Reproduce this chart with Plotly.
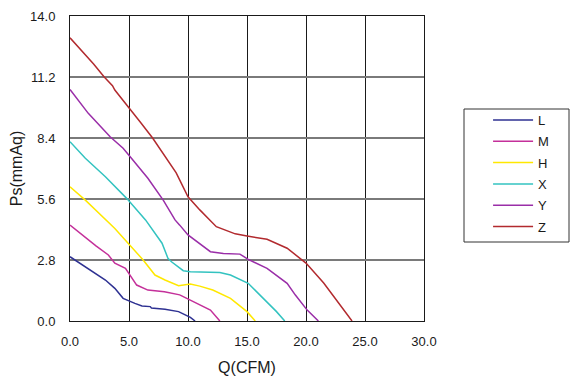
import plotly.graph_objects as go

# Data (Q in CFM, Ps in mmAq)
L_q = [0, 1.3, 3.0, 3.8, 4.5, 5.5, 6.1, 6.8, 6.9, 8.05, 9.2, 10.2, 10.6]
L_p = [2.95, 2.49, 1.88, 1.5, 1.04, 0.81, 0.69, 0.66, 0.6, 0.54, 0.43, 0.17, 0.0]

M_q = [0, 1.0, 2.2, 3.25, 3.8, 4.7, 5.65, 6.6, 8.0, 9.3, 10.2, 11.9, 12.7]
M_p = [4.4, 3.95, 3.45, 3.03, 2.65, 2.42, 1.65, 1.42, 1.34, 1.2, 0.96, 0.5, 0.0]

H_q = [0, 1.3, 3.8, 4.9, 6.2, 7.2, 8.05, 9.2, 10.2, 11.0, 12.1, 13.6, 15.0, 15.7]
H_p = [6.16, 5.55, 4.25, 3.57, 2.8, 2.11, 1.88, 1.62, 1.7, 1.6, 1.42, 1.04, 0.43, 0.0]

X_q = [0, 1.3, 3.0, 4.8, 6.4, 7.8, 8.3, 8.6, 9.6, 10.2, 12.7, 13.6, 15.1, 16.4, 17.5, 18.2]
X_p = [8.23, 7.47, 6.62, 5.63, 4.64, 3.57, 2.88, 2.72, 2.31, 2.26, 2.23, 2.11, 1.73, 1.04, 0.43, 0.0]

Y_q = [0, 1.55, 3.4, 4.5, 5.1, 6.6, 7.9, 8.9, 9.3, 10.0, 11.9, 13.0, 14.4, 15.1, 16.7, 18.4, 19.1, 20.1, 21.05]
Y_p = [10.63, 9.53, 8.46, 7.93, 7.54, 6.55, 5.55, 4.64, 4.4, 3.95, 3.18, 3.1, 3.07, 2.83, 2.42, 1.73, 1.19, 0.5, 0.0]

Z_q = [0, 1.0, 2.0, 2.9, 3.6, 3.8, 5.0, 6.0, 7.0, 8.0, 9.0, 10.0, 11.0, 12.4, 14.0, 15.0, 16.7, 18.4, 19.5, 20.0, 21.5, 23.9]
Z_p = [13.0, 12.4, 11.8, 11.2, 10.8, 10.6, 9.8, 9.1, 8.4, 7.6, 6.8, 5.7, 5.1, 4.33, 4.0, 3.9, 3.75, 3.34, 2.9, 2.66, 1.74, 0.0]

names = ["L", "M", "H", "X", "Y", "Z"]
colors = ["#2e3192", "#c4309a", "#ffe800", "#33c3c0", "#9a2ea8", "#b22a2e"]
series = [(L_q, L_p), (M_q, M_p), (H_q, H_p), (X_q, X_p), (Y_q, Y_p), (Z_q, Z_p)]

x_ticks = [0, 5, 10, 15, 20, 25, 30]
y_ticks = [0, 2.8, 5.6, 8.4, 11.2, 14.0]

fig = go.Figure()
for n, c, (q, p) in zip(names, colors, series):
    fig.add_trace(go.Scatter(x=q, y=p, mode="lines", name=n, legendgroup=n,
                             line=dict(color=c, width=1.5)))

font = dict(family="Liberation Sans, Arial, sans-serif", size=13, color="#1a1a1a")

fig.update_layout(
    width=580, height=376,
    margin=dict(l=62, r=164, t=8, b=63, autoexpand=False),
    paper_bgcolor="white", plot_bgcolor="white",
    font=font,
    showlegend=True,
    legend=dict(x=1.181, y=0.708, xanchor="left", yanchor="top",
                bgcolor="rgba(0,0,0,0)", borderwidth=0,
                font=dict(family="Liberation Sans, Arial, sans-serif", size=13, color="#1a1a1a"),
                tracegroupgap=1.4, itemwidth=40),
    xaxis=dict(range=[0, 30], tickvals=x_ticks,
               ticktext=[f"{v:.1f}" for v in x_ticks],
               showgrid=True, gridcolor="#1a1a1a", gridwidth=1,
               showline=True, linecolor="#1a1a1a", linewidth=1, mirror=True,
               zeroline=False, ticks="", ticklabelstandoff=8, automargin=False,
               title=dict(text="Q(CFM)", standoff=14)),
    yaxis=dict(range=[0, 14], tickvals=y_ticks,
               ticktext=[f"{v:.1f}" for v in y_ticks],
               showgrid=True, gridcolor="#7a7a7a", gridwidth=1.5,
               showline=True, linecolor="#1a1a1a", linewidth=1, mirror=True,
               zeroline=False, ticks="", ticklabelstandoff=11, automargin=False,
               title=dict(text="Ps(mmAq)", standoff=10)),
    shapes=[dict(type="rect", xref="paper", yref="paper",
                 x0=(464 - 70) / 354, x1=(569 - 70) / 354,
                 y0=(321 - 242) / 305, y1=(321 - 109) / 305,
                 line=dict(color="#333333", width=1), fillcolor="rgba(0,0,0,0)")],
)

fig.write_html("out.html")
